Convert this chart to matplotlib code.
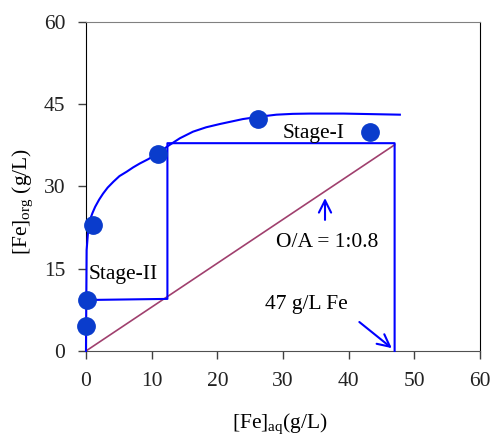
import matplotlib
matplotlib.use("Agg")
import matplotlib.pyplot as plt

# experimental points (aq, org)
exp_aq = [0, 0.1, 1, 11, 26.2, 43.2]
exp_org = [4.6, 9.3, 23, 36, 42.4, 39.9]

# isotherm curve
curve_aq = [0, 0.02, 0.05, 0.08, 0.1, 0.3, 0.6, 1.0, 1.4, 2.0, 2.6, 3.3, 4.2, 5.1, 6.2,
            7.2, 8.2, 9.5, 11, 12.5, 14.3, 16.3, 18.3, 20.4, 23.9, 26.2, 29, 31.5,
            34.1, 39.2, 43.5, 47.8]
curve_org = [0, 5, 10, 15, 18.4, 21.5, 23.9, 25.2, 26.3, 27.6, 28.7, 29.8, 30.9, 31.9, 32.7,
             33.5, 34.2, 35.0, 36.1, 37.4, 38.8, 40.0, 40.8, 41.4, 42.3, 42.7, 43.1, 43.25,
             43.3, 43.3, 43.2, 43.1]

# McCabe-Thiele steps
stair_aq = [47, 47, 12.4, 12.4, 0.2]
stair_org = [0, 37.9, 37.9, 9.5, 9.3]

# operating line O/A = 1:0.8
op_aq = [0, 47]
op_org = [0, 37.6]

plt.rcParams['font.family'] = ['Liberation Serif', 'DejaVu Serif']
plt.rcParams['mathtext.fontset'] = 'custom'
plt.rcParams['mathtext.rm'] = 'Liberation Serif'
plt.rcParams['mathtext.it'] = 'Liberation Serif:italic'

fs = 15.5
fig = plt.figure(figsize=(4.93, 4.36), dpi=100)
ax = fig.add_axes([0.1744, 0.195, 0.7992, 0.7545])

ax.plot(curve_aq, curve_org, color='#0000ff', lw=1.5, zorder=3, clip_on=False,
        solid_joinstyle='round')
ax.plot(stair_aq, stair_org, color='#0000ff', lw=1.5, zorder=3, clip_on=False)
ax.plot(op_aq, op_org, color='#a0406e', lw=1.2, zorder=2)
ax.plot(exp_aq, exp_org, 'o', color='#0a3ccc', ms=12.5, zorder=4, clip_on=False)

arrow = dict(arrowstyle='->', color='#0000ff', lw=1.5, mutation_scale=22)
ax.annotate('', xy=(36.4, 28.4), xytext=(36.4, 23.4), arrowprops=arrow)
ax.annotate('', xy=(46.9, 0.2), xytext=(41.3, 5.6), arrowprops=arrow)

ax.text(36.8, 19.7, 'O/A = 1:0.8', fontsize=fs, ha='center', va='center')
ax.text(33.6, 8.4, '47 g/L Fe', fontsize=fs, ha='center', va='center')
ax.text(34.6, 39.7, 'Stage-I', fontsize=fs, ha='center', va='center')
ax.text(5.6, 13.9, 'Stage-II', fontsize=fs, ha='center', va='center')

ax.set_xlim(0, 60)
ax.set_ylim(0, 60)
ax.set_xticks(range(0, 61, 10))
ax.set_yticks(range(0, 61, 15))
ax.tick_params(direction='out', length=6, width=1, pad=9, labelsize=fs, colors='#404040',
               labelcolor='#222222')

for side in ['left', 'right']:
    ax.spines[side].set_color('black')
ax.spines['top'].set_color('#808080')
ax.spines['bottom'].set_color('#505050')

ax.set_xlabel('[Fe]$_{\\mathrm{aq}}$(g/L)', fontsize=fs)
ax.set_ylabel('[Fe]$_{\\mathrm{org}}$ (g/L)', fontsize=fs)
ax.xaxis.set_label_coords(0.492, -0.185)
ax.yaxis.set_label_coords(-0.13, 0.455)

fig.savefig('out.png', dpi=100)
plt.close(fig)
